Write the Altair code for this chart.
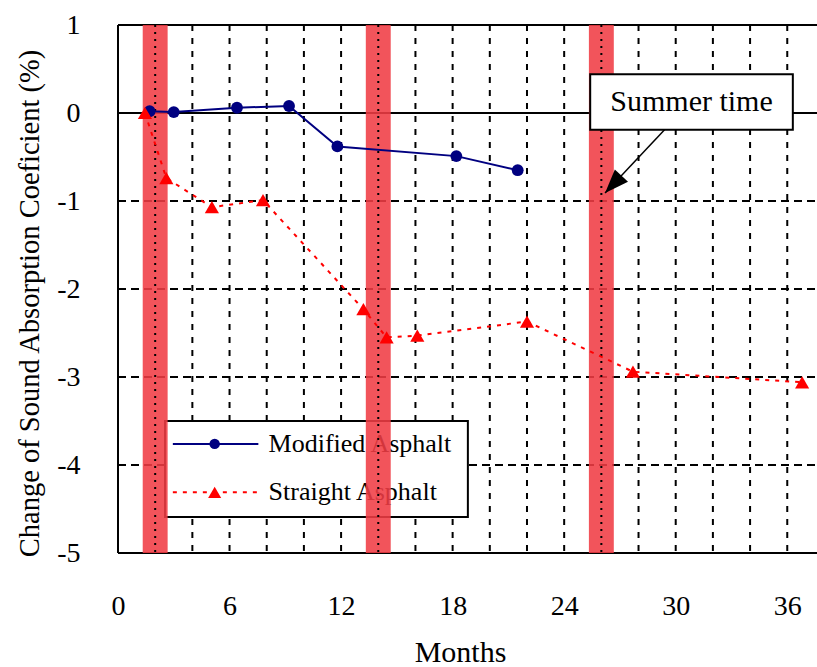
import altair as alt
import pandas as pd

# Measured change of sound absorption coefficient over time
months_modified = [1.7, 3.0, 6.4, 9.2, 11.8, 18.2, 21.5]
change_modified = [0.02, 0.01, 0.06, 0.08, -0.38, -0.49, -0.65]
months_straight = [1.45, 2.6, 5.05, 7.8, 13.2, 14.45, 16.1, 22.0, 27.7, 36.8]
change_straight = [0.0, -0.74, -1.07, -0.99, -2.23, -2.55, -2.53, -2.37, -2.94, -3.06]
series_names = ["Modified Asphalt", "Straight Asphalt"]

# Summer periods (band centres, months)
summer_months = [2, 14, 26]
summer_half_width = 0.67
annotation_text = "Summer time"

x_ticks = [0, 6, 12, 18, 24, 30, 36]
y_ticks = [1, 0, -1, -2, -3, -4, -5]
x_grid = [4, 6, 8, 10, 12, 16, 18, 20, 22, 24, 28, 30, 32, 34, 36]
y_grid = [-1, -2, -3, -4]

FONT = "Liberation Serif"
X_MAX = 37.6
W, H = 699, 528

xs = alt.Scale(domain=[0, X_MAX], nice=False, zero=False)
ys = alt.Scale(domain=[-5, 1], nice=False, zero=False)

x_axis = alt.Axis(
    values=x_ticks, title="Months", grid=False, ticks=False, domain=False,
    labelFont=FONT, labelFontSize=28, labelColor="black", labelPadding=39,
    labelFlush=False,
    titleFont=FONT, titleFontSize=30, titleFontWeight="normal", titleColor="black",
    titleX=342, titleY=99, titleBaseline="middle", titleAlign="center",
)
y_axis = alt.Axis(
    values=y_ticks, title="Change of Sound Absorption Coeficient (%)",
    grid=False, ticks=False, domain=False,
    labelExpr="datum.value + ''",
    labelFont=FONT, labelFontSize=28, labelColor="black", labelPadding=38,
    labelFlush=False, labelBaseline="middle",
    titleFont=FONT, titleFontSize=28.5, titleFontWeight="normal", titleColor="black",
    titleX=-89, titleY=278, titleAngle=270, titleBaseline="middle",
    titleAlign="center",
)


def X(field):
    return alt.X(field, type="quantitative", scale=xs, axis=x_axis)


def Y(field):
    return alt.Y(field, type="quantitative", scale=ys, axis=y_axis)


def XD(value):
    return alt.XDatum(value, type="quantitative", scale=xs, axis=x_axis)


def YD(value):
    return alt.YDatum(value, type="quantitative", scale=ys, axis=y_axis)


modified = pd.DataFrame({"m": months_modified, "v": change_modified})
straight = pd.DataFrame({"m": months_straight, "v": change_straight})
bands = pd.DataFrame({
    "c": summer_months,
    "a": [c - summer_half_width for c in summer_months],
    "b": [c + summer_half_width for c in summer_months],
})

# Gridlines and frame
vgrid = alt.Chart(pd.DataFrame({"m": x_grid})).mark_rule(
    color="black", strokeWidth=2, strokeDash=[6, 7]
).encode(x=X("m"), y=YD(1), y2=alt.datum(-5))

hgrid = alt.Chart(pd.DataFrame({"v": y_grid})).mark_rule(
    color="black", strokeWidth=2, strokeDash=[8, 5]
).encode(y=Y("v"), x=XD(0), x2=alt.datum(X_MAX))

solid_h = alt.Chart(pd.DataFrame({"v": [1, 0, -5]})).mark_rule(
    color="black", strokeWidth=2
).encode(y=Y("v"), x=XD(0), x2=alt.datum(X_MAX))

left_border = alt.Chart(pd.DataFrame({"m": [0]})).mark_rule(
    color="black", strokeWidth=2
).encode(x=X("m"), y=YD(1), y2=alt.datum(-5))

# Legend box
leg_x0, leg_x1, leg_y0, leg_y1 = 2.53, 18.82, -3.5, -4.59
leg_rows = [-3.76, -4.31]
legend_box = alt.Chart(pd.DataFrame({"a": [leg_x0], "b": [leg_x1], "t": [leg_y0], "u": [leg_y1]})).mark_rect(
    fill="white", stroke="black", strokeWidth=2
).encode(x=X("a"), x2="b", y=Y("t"), y2="u")

leg_mod_line = alt.Chart(pd.DataFrame({"a": [2.95], "b": [7.55], "v": [leg_rows[0]]})).mark_rule(
    color="#000080", strokeWidth=2
).encode(x=X("a"), x2="b", y=Y("v"))
leg_mod_pt = alt.Chart(pd.DataFrame({"m": [5.2], "v": [leg_rows[0]]})).mark_point(
    shape="circle", filled=True, color="#000080", size=110, opacity=1
).encode(x=X("m"), y=Y("v"))
leg_str_line = alt.Chart(pd.DataFrame({"a": [2.95], "b": [7.55], "v": [leg_rows[1]]})).mark_rule(
    color="red", strokeWidth=2, strokeDash=[4, 6]
).encode(x=X("a"), x2="b", y=Y("v"))
leg_str_pt = alt.Chart(pd.DataFrame({"m": [5.2], "v": [leg_rows[1]]})).mark_point(
    shape="triangle-up", filled=True, color="red", size=170, opacity=1
).encode(x=X("m"), y=Y("v"))
leg_text = alt.Chart(pd.DataFrame({"m": [8.1, 8.1], "v": leg_rows, "t": series_names})).mark_text(
    font=FONT, fontSize=26, align="left", baseline="middle", color="black"
).encode(x=X("m"), y=Y("v"), text="t:N")

# Summer bands with dotted centre lines
band_rects = alt.Chart(bands).mark_rect(color="#f03c44", opacity=0.88).encode(
    x=X("a"), x2="b", y=YD(1), y2=alt.datum(-5)
)
band_lines = alt.Chart(bands).mark_rule(color="black", strokeWidth=2, strokeDash=[2, 5]).encode(
    x=X("c"), y=YD(1), y2=alt.datum(-5)
)

# Data series
mod_line = alt.Chart(modified).mark_line(color="#000080", strokeWidth=2).encode(
    x=X("m"), y=Y("v"), order="m:Q"
)
mod_pts = alt.Chart(modified).mark_point(
    shape="circle", filled=True, color="#000080", size=140, opacity=1
).encode(x=X("m"), y=Y("v"))
str_line = alt.Chart(straight).mark_line(color="red", strokeWidth=2, strokeDash=[4, 6]).encode(
    x=X("m"), y=Y("v"), order="m:Q"
)
str_pts = alt.Chart(straight).mark_point(
    shape="triangle-up", filled=True, color="red", size=200, opacity=1
).encode(x=X("m"), y=Y("v"))

# "Summer time" callout
callout_box = alt.Chart(pd.DataFrame({"a": [25.4], "b": [36.3], "t": [0.44], "u": [-0.19]})).mark_rect(
    fill="white", stroke="black", strokeWidth=2
).encode(x=X("a"), x2="b", y=Y("t"), y2="u")
callout_text = alt.Chart(pd.DataFrame({"m": [30.85], "v": [0.12], "t": [annotation_text]})).mark_text(
    font=FONT, fontSize=30, align="center", baseline="middle", color="black"
).encode(x=X("m"), y=Y("v"), text="t:N")
arrow_shaft = alt.Chart(pd.DataFrame({"a": [29.4], "b": [26.2], "t": [-0.19], "u": [-0.91]})).mark_rule(
    color="black", strokeWidth=1.5
).encode(x=X("a"), x2="b", y=Y("t"), y2="u")
arrow_head = alt.Chart(pd.DataFrame({"m": [26.2], "v": [-0.91]})).mark_point(
    shape="M0,0 L0.75,2 L-0.75,2 Z", filled=True, color="black", size=576,
    angle=223, opacity=1
).encode(x=X("m"), y=Y("v"))

chart = alt.layer(
    vgrid, hgrid, solid_h, left_border,
    legend_box, leg_mod_line, leg_mod_pt, leg_str_line, leg_str_pt, leg_text,
    band_rects, band_lines,
    mod_line, str_line, mod_pts, str_pts,
    callout_box, callout_text, arrow_shaft, arrow_head,
).properties(
    width=W, height=H,
    autosize=alt.AutoSizeParams(type="none"),
    padding={"left": 118, "top": 25, "right": 0, "bottom": 114},
    background="white",
).configure_view(stroke=None)

chart.save("out.html", embed_options={"renderer": "svg", "actions": False})
